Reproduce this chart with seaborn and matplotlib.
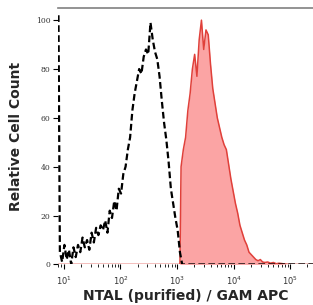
import numpy as np
import matplotlib
matplotlib.use("Agg")
import matplotlib.pyplot as plt
import matplotlib.ticker as mticker
import seaborn as sns

# histogram bin centres stored as log10(fluorescence), counts as % of max
ctrl_log = [0.905, 0.93, 0.97, 1.01, 1.05, 1.09, 1.13, 1.17, 1.21, 1.25, 1.29,
            1.33, 1.37, 1.41, 1.45, 1.49, 1.53, 1.57, 1.61, 1.65, 1.69, 1.73,
            1.77, 1.81, 1.85, 1.89, 1.93, 1.97, 2.01, 2.05, 2.09, 2.13, 2.17,
            2.21, 2.25, 2.29, 2.33, 2.37, 2.41, 2.45, 2.49, 2.53, 2.57, 2.61,
            2.65, 2.69, 2.73, 2.77, 2.81, 2.85, 2.89, 2.93, 2.97, 3.01, 3.05,
            3.09, 5.45]
ctrl_cnt = [102, 5, 1, 8, 2, 6, 0, 7, 3, 8, 5,
            11, 7, 10, 6, 13, 9, 15, 12, 16, 14, 18,
            13, 22, 19, 26, 22, 31, 29, 37, 40, 47, 52,
            63, 70, 75, 80, 78, 85, 88, 86, 99, 92, 87,
            84, 77, 67, 58, 51, 42, 31, 25, 19, 14, 5,
            0, 0]

ntal_log = [0.9, 3.05, 3.07, 3.11, 3.15, 3.19, 3.23, 3.27, 3.31, 3.35, 3.39,
            3.43, 3.47, 3.51, 3.55, 3.59, 3.63, 3.67, 3.71, 3.75, 3.79, 3.83,
            3.87, 3.91, 3.95, 3.99, 4.03, 4.07, 4.11, 4.15, 4.19, 4.23, 4.27,
            4.31, 4.35, 4.39, 4.43, 4.47, 4.51, 4.55, 4.60, 4.65, 4.70, 4.75,
            4.80, 4.90, 5.00, 5.45]
ntal_cnt = [0, 0, 40, 47, 52, 63, 70, 80, 86, 77, 92,
            100, 88, 96, 94, 82, 72, 66, 60, 56, 52, 49,
            47, 41, 35, 30, 25, 21, 16, 13, 10, 8, 5,
            4, 3, 2, 1.5, 2, 1, 0.8, 1, 0.5, 0.8, 0.3,
            0.5, 0.2, 0, 0]

y_ticks = [0, 20, 40, 60, 80, 100]

sns.set_style("white")
plt.rcParams["mathtext.fontset"] = "dejavuserif"

fig = plt.figure(figsize=(3.13, 3.05), dpi=100)
ax = fig.add_axes([0.185, 0.133, 0.815, 0.841])

ntal_x = 10 ** np.array(ntal_log)
ctrl_x = 10 ** np.array(ctrl_log)

ax.fill_between(ntal_x, 0, ntal_cnt, color="#fba4a4", lw=0, zorder=1)
sns.lineplot(x=ntal_x, y=ntal_cnt, ax=ax, color="#e0403a", lw=1.1,
             estimator=None, sort=False, zorder=2)
sns.lineplot(x=ctrl_x, y=ctrl_cnt, ax=ax, color="black", lw=1.6,
             linestyle=(0, (3, 1.5)), estimator=None, sort=False, zorder=3)

ax.set_xscale("log")
ax.set_xlim(10 ** 0.895, 10 ** 5.4)
ax.set_ylim(0, 105)
ax.set_yticks(y_ticks)
ax.xaxis.set_major_locator(mticker.LogLocator(base=10, numticks=10))
ax.xaxis.set_minor_locator(mticker.LogLocator(base=10, subs=np.arange(2, 10), numticks=20))
ax.xaxis.set_minor_formatter(mticker.NullFormatter())

for s in ["left", "right", "bottom"]:
    ax.spines[s].set_visible(False)
ax.spines["top"].set_color("#808080")
ax.spines["top"].set_linewidth(1.2)

ax.tick_params(axis="both", which="major", direction="out", length=3.5, width=0.8,
               color="black", labelsize=5.5, labelcolor="#333333", pad=2,
               bottom=True, left=True)
ax.tick_params(axis="x", which="major", labelsize=6, pad=4)
ax.tick_params(axis="x", which="minor", direction="out", length=2, width=0.6,
               color="black", bottom=True)
for lab in ax.get_yticklabels():
    lab.set_family("DejaVu Serif")

ax.set_xlabel("NTAL (purified) / GAM APC", fontsize=10, fontweight="bold", labelpad=1)
ax.set_ylabel("Relative Cell Count", fontsize=10, fontweight="bold", labelpad=9)
ax.grid(False)

fig.savefig("out.png", dpi=100)
